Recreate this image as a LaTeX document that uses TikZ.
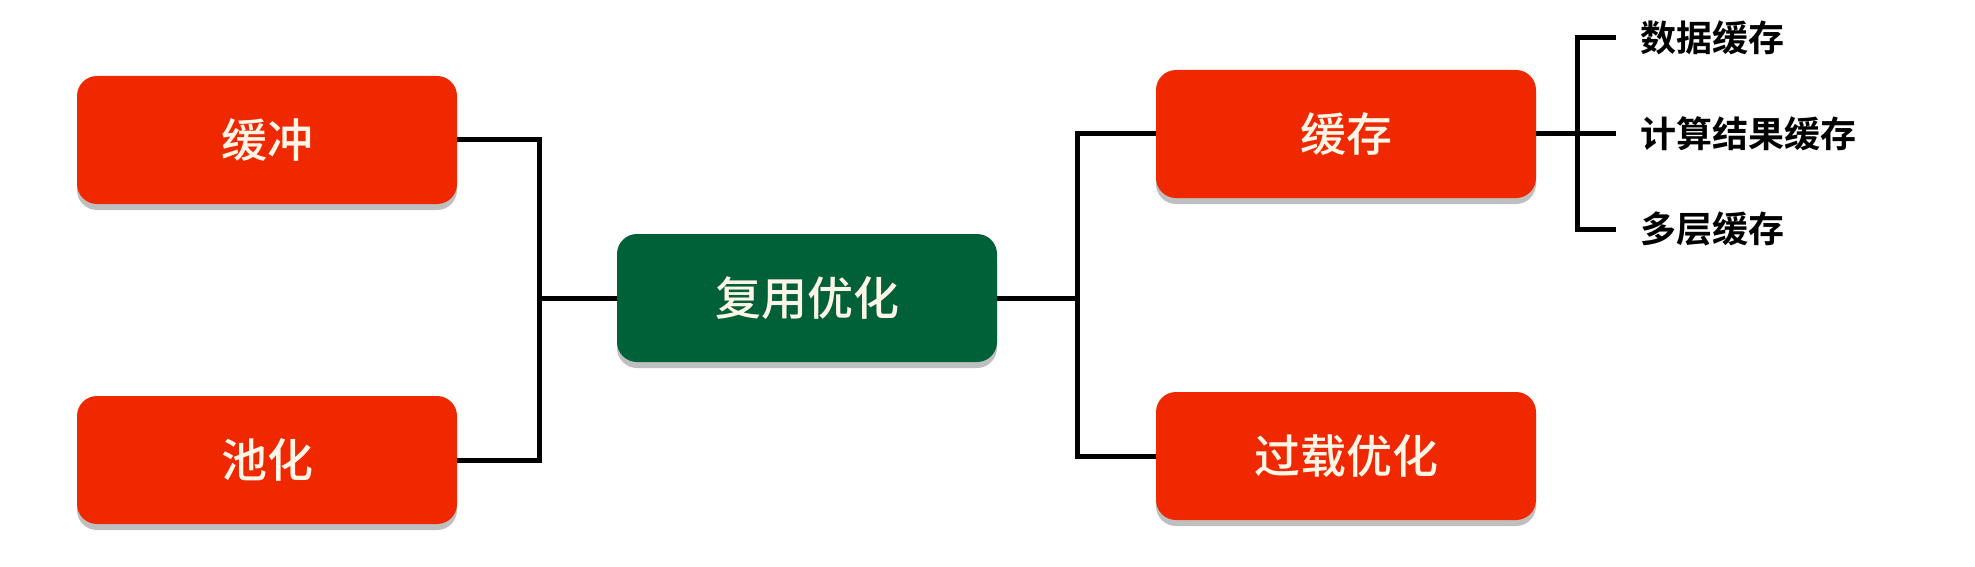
\documentclass[tikz,border=0pt]{standalone}
\usepackage{fontspec}
\newfontfamily\cjk{Noto Sans CJK SC Medium}
\newfontfamily\cjkbold{Noto Sans CJK SC Bold}
\usetikzlibrary{positioning,shadows}
\definecolor{boxred}{RGB}{240,40,0}
\definecolor{boxgreen}{RGB}{0,96,56}
\definecolor{boxtext}{RGB}{255,246,232}

\begin{document}
\begin{tikzpicture}[
                x=1pt, y=-1pt,
                optbox/.style = {rectangle, rounded corners=20pt, fill=boxred, text=boxtext,
                        minimum width=380pt, minimum height=128pt, font=\cjk\fontsize{46}{50}\selectfont,
                        drop shadow={shadow xshift=0pt, shadow yshift=-6pt, opacity=0.5}},
                rootbox/.style = {optbox, fill=boxgreen},
                leaf/.style = {anchor=west, inner xsep=24pt, font=\cjkbold\fontsize{36}{40}\selectfont},
                branch/.style = {line width=5pt, black}
        ]
        \useasboundingbox (0,0) rectangle (1975,567);
        \fill[white] (0,0) rectangle (1975,567);

        \node[rootbox] (reuse) at (807,298) {复用优化};
        \node[optbox] (buffer) at (267,140) {缓冲};
        \node[optbox] (pool) at (267,460) {池化};
        \node[optbox] (cache) at (1346,134) {缓存};
        \node[optbox] (overload) at (1346,456) {过载优化};

        \node[leaf] (datacache) at (1616,38) {数据缓存};
        \node[leaf] (resultcache) at (1616,134) {计算结果缓存};
        \node[leaf] (layercache) at (1616,229) {多层缓存};

        \coordinate (left) at (539,298);
        \coordinate (right) at (1077,298);
        \coordinate (sub) at (1577,134);

        % left side
        \draw[branch] (buffer.east) -| (left) |- (pool.east);
        \draw[branch] (left) -- (reuse.west);
        % right side
        \draw[branch] (reuse.east) -- (right);
        \draw[branch] (cache.west) -| (right) |- (overload.west);
        % cache leaves
        \draw[branch] (cache.east) -- (sub);
        \draw[branch] (datacache.west) -| (sub) |- (layercache.west);
        \draw[branch] (sub) -- (resultcache.west);
\end{tikzpicture}
\end{document}
